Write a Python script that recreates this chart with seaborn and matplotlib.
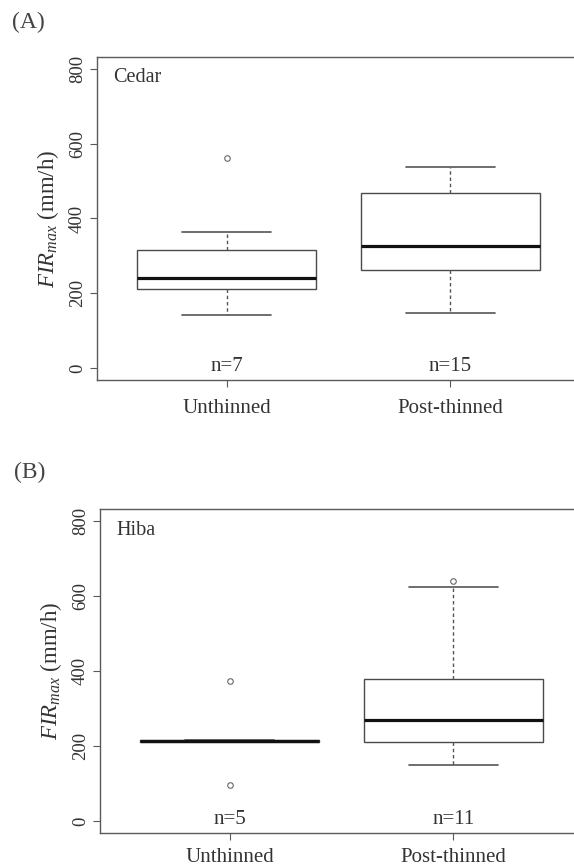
import numpy as np
import pandas as pd
import matplotlib
matplotlib.use("Agg")
import matplotlib.pyplot as plt
import seaborn as sns

# ---- data ----
categories = ["Unthinned", "Post-thinned"]
tick_labels = ["Unthinned", "Post-thinned"]
y_ticks = [0, 200, 400, 600, 800]

cedar_unthinned = [142, 200, 224, 242, 271, 363, 563]
cedar_postthinned = [148, 180, 220, 250, 274, 290, 305, 326, 360, 410, 450, 486, 500, 520, 538]
hiba_unthinned = [96, 211, 213, 215, 374]
hiba_postthinned = [149, 185, 205, 215, 240, 269, 310, 360, 400, 623, 640]

panel_labels = ["(A)", "(B)"]
species = ["Cedar", "Hiba"]


def long_df(a, b):
    return pd.DataFrame({
        "group": [categories[0]] * len(a) + [categories[1]] * len(b),
        "value": list(a) + list(b),
    })


sns.set_theme(style="white")
plt.rcParams["font.family"] = ["Liberation Serif", "DejaVu Serif"]
plt.rcParams["mathtext.fontset"] = "custom"
plt.rcParams["mathtext.rm"] = "Liberation Serif"
plt.rcParams["mathtext.it"] = "Liberation Serif:italic"

TXT = "#333333"
EDGE = "#5a5a5a"

fig = plt.figure(figsize=(5.74, 8.68), dpi=100)
W, H = 574.0, 868.0

# axes boxes in pixel coordinates (left, right, top, bottom)
boxes = [(97, 580, 57, 380), (100, 583, 509, 833)]
datasets = [(cedar_unthinned, cedar_postthinned), (hiba_unthinned, hiba_postthinned)]
panel_pos = [(12, 22), (14, 472)]
xpads = [9, 6]

for i in range(2):
    l, r, t, b = boxes[i]
    ax = fig.add_axes([l / W, 1 - b / H, (r - l) / W, (b - t) / H])
    df = long_df(*datasets[i])
    sns.boxplot(
        data=df, x="group", y="value", order=categories, ax=ax,
        width=0.8, color="white", linecolor="#4a4a4a", linewidth=1.0,
        whis=1.5,
        medianprops=dict(color="#111111", linewidth=2.3),
        whiskerprops=dict(linestyle=(0, (2.5, 2.0)), color="#555555", linewidth=1.0),
        capprops=dict(color="#555555", linewidth=1.2),
        flierprops=dict(marker="o", markersize=4, markerfacecolor="none",
                        markeredgecolor="#666666", markeredgewidth=0.8),
    )
    ax.set_xlim(-0.58, 1.58)
    ax.set_ylim(-32, 832)
    ax.set_yticks(y_ticks)
    ax.set_yticklabels([str(v) for v in y_ticks], rotation=90, va="center")
    ax.set_xticks([0, 1])
    ax.set_xticklabels(tick_labels)
    ax.tick_params(axis="both", which="major", direction="out", length=5,
                   width=0.8, color=EDGE, colors=TXT, left=True, bottom=True)
    ax.tick_params(axis="y", labelsize=13.5, pad=3)
    ax.tick_params(axis="x", labelsize=15, pad=xpads[i])
    for s in ax.spines.values():
        s.set_visible(True)
        s.set_color(EDGE)
        s.set_linewidth(1.0)
    ax.set_xlabel("")
    ax.set_ylabel(r"$\mathit{FIR}_{\mathit{max}}$ (mm/h)", fontsize=16.5, color=TXT)
    ax.yaxis.set_label_coords(-0.075, 0.5)

    ax.text(0.033, 0.935, species[i], transform=ax.transAxes, ha="left",
            va="center", fontsize=14.5, color=TXT)
    for j, d in enumerate(datasets[i]):
        ax.text(j, 3, f"n={len(d)}", ha="center", va="center",
                fontsize=15, color=TXT)

    px, py = panel_pos[i]
    fig.text(px / W, 1 - py / H, panel_labels[i], ha="left", va="center",
             fontsize=17, color="#444444")

fig.savefig("out.png", dpi=100, facecolor="white")
